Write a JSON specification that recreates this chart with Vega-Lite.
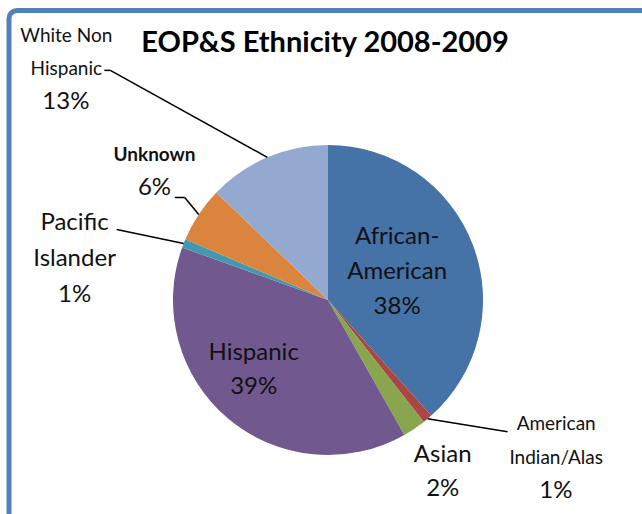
{
  "$schema": "https://vega.github.io/schema/vega-lite/v6.json",
  "width": 640,
  "height": 515,
  "autosize": "none",
  "padding": {"left": 9, "top": 10.5, "right": 0, "bottom": 0},
  "background": "white",
  "title": {"text": "EOP&S Ethnicity 2008-2009", "font": "Lato", "fontSize": 29, "fontWeight": "bold", "color": "#000000", "anchor": "middle", "frame": "group", "offset": -47, "dx": -4},
  "config": {"view": {"stroke": "#4F81BD", "strokeWidth": 5, "cornerRadius": 8}, "text": {"font": "Lato", "color": "#111111"}},
  "data": {"values": [
    {"category": "African-American", "name": "African-\nAmerican", "value": 38.4, "order": 1},
    {"category": "American Indian/Alas", "name": "American\nIndian/Alas", "value": 1.0, "order": 2},
    {"category": "Asian", "name": "Asian", "value": 2.4, "order": 3},
    {"category": "Hispanic", "name": "Hispanic", "value": 38.7, "order": 4},
    {"category": "Pacific Islander", "name": "Pacific\nIslander", "value": 0.9, "order": 5},
    {"category": "Unknown", "name": "Unknown", "value": 5.8, "order": 6},
    {"category": "White Non Hispanic", "name": "White Non\nHispanic", "value": 12.8, "order": 7}
  ]},
  "transform": [
    {"window": [{"op": "sum", "field": "value", "as": "cum"}], "sort": [{"field": "order"}], "frame": [null, 0]},
    {"joinaggregate": [{"op": "sum", "field": "value", "as": "total"}]},
    {"calculate": "2*PI*(datum.cum - datum.value/2)/datum.total", "as": "mid"},
    {"calculate": "155*sin(datum.mid)", "as": "ex"},
    {"calculate": "155*cos(datum.mid)", "as": "ey"},
    {"calculate": "datum.name + '\\n' + format(datum.value, '.0f') + '%'", "as": "label"},
    {"calculate": "format(datum.value, '.0f') + '%'", "as": "pct"}
  ],
  "layer": [
    {
      "mark": {"type": "arc", "outerRadius": 155},
      "encoding": {
        "x": {"datum": 0, "type": "quantitative", "scale": {"domain": [-319, 321], "nice": false, "zero": false}, "axis": null},
        "y": {"datum": 0, "type": "quantitative", "scale": {"domain": [-225.5, 289.5], "nice": false, "zero": false}, "axis": null},
        "theta": {"field": "value", "type": "quantitative", "stack": true},
        "order": {"field": "order", "type": "quantitative"},
        "color": {"field": "category", "type": "nominal", "legend": null,
          "scale": {"domain": ["African-American", "American Indian/Alas", "Asian", "Hispanic", "Pacific Islander", "Unknown", "White Non Hispanic"],
                    "range": ["#4572A7", "#AA4643", "#89A54E", "#71588F", "#4198AF", "#DB843D", "#93A9CF"]}}
      }
    },
    {
      "mark": {"type": "text", "radius": 74, "dy": -37, "fontSize": 24, "lineBreak": "\n", "lineHeight": 35},
      "encoding": {
        "x": {"datum": 0, "type": "quantitative"}, "y": {"datum": 0, "type": "quantitative"},
        "theta": {"field": "value", "type": "quantitative", "stack": true},
        "order": {"field": "order", "type": "quantitative"},
        "text": {"condition": {"test": "datum.category === 'African-American'", "field": "label"}, "value": ""}
      }
    },
    {
      "mark": {"type": "text", "radius": 92, "dx": -15, "dy": -17, "fontSize": 24, "lineBreak": "\n", "lineHeight": 34},
      "encoding": {
        "x": {"datum": 0, "type": "quantitative"}, "y": {"datum": 0, "type": "quantitative"},
        "theta": {"field": "value", "type": "quantitative", "stack": true},
        "order": {"field": "order", "type": "quantitative"},
        "text": {"condition": {"test": "datum.category === 'Hispanic'", "field": "label"}, "value": ""}
      }
    },
    {
      "mark": {"type": "text", "radius": 206, "dy": -16, "fontSize": 24, "lineBreak": "\n", "lineHeight": 34},
      "encoding": {
        "x": {"datum": 0, "type": "quantitative"}, "y": {"datum": 0, "type": "quantitative"},
        "theta": {"field": "value", "type": "quantitative", "stack": true},
        "order": {"field": "order", "type": "quantitative"},
        "text": {"condition": {"test": "datum.category === 'Asian'", "field": "label"}, "value": ""}
      }
    },
    {
      "mark": {"type": "text", "radius": 184, "dx": 110, "dy": -17, "fontSize": 19, "lineBreak": "\n", "lineHeight": 34},
      "encoding": {
        "x": {"datum": 0, "type": "quantitative"}, "y": {"datum": 0, "type": "quantitative"},
        "theta": {"field": "value", "type": "quantitative", "stack": true},
        "order": {"field": "order", "type": "quantitative"},
        "text": {"condition": {"test": "datum.category === 'American Indian/Alas'", "field": "name"}, "value": ""}
      }
    },
    {
      "mark": {"type": "text", "radius": 249, "dx": 68, "fontSize": 24},
      "encoding": {
        "x": {"datum": 0, "type": "quantitative"}, "y": {"datum": 0, "type": "quantitative"},
        "theta": {"field": "value", "type": "quantitative", "stack": true},
        "order": {"field": "order", "type": "quantitative"},
        "text": {"condition": {"test": "datum.category === 'American Indian/Alas'", "field": "pct"}, "value": ""}
      }
    },
    {
      "mark": {"type": "text", "radius": 240, "dx": -30, "dy": 11, "fontSize": 24, "lineBreak": "\n", "lineHeight": 36},
      "encoding": {
        "x": {"datum": 0, "type": "quantitative"}, "y": {"datum": 0, "type": "quantitative"},
        "theta": {"field": "value", "type": "quantitative", "stack": true},
        "order": {"field": "order", "type": "quantitative"},
        "text": {"condition": {"test": "datum.category === 'Pacific Islander'", "field": "label"}, "value": ""}
      }
    },
    {
      "mark": {"type": "text", "radius": 208, "dy": -30, "fontSize": 19, "fontWeight": "bold"},
      "encoding": {
        "x": {"datum": 0, "type": "quantitative"}, "y": {"datum": 0, "type": "quantitative"},
        "theta": {"field": "value", "type": "quantitative", "stack": true},
        "order": {"field": "order", "type": "quantitative"},
        "text": {"condition": {"test": "datum.category === 'Unknown'", "field": "name"}, "value": ""}
      }
    },
    {
      "mark": {"type": "text", "radius": 208, "dy": 3, "fontSize": 24},
      "encoding": {
        "x": {"datum": 0, "type": "quantitative"}, "y": {"datum": 0, "type": "quantitative"},
        "theta": {"field": "value", "type": "quantitative", "stack": true},
        "order": {"field": "order", "type": "quantitative"},
        "text": {"condition": {"test": "datum.category === 'Unknown'", "field": "pct"}, "value": ""}
      }
    },
    {
      "mark": {"type": "text", "radius": 270, "dx": -156, "dy": -16, "fontSize": 19, "lineBreak": "\n", "lineHeight": 33},
      "encoding": {
        "x": {"datum": 0, "type": "quantitative"}, "y": {"datum": 0, "type": "quantitative"},
        "theta": {"field": "value", "type": "quantitative", "stack": true},
        "order": {"field": "order", "type": "quantitative"},
        "text": {"condition": {"test": "datum.category === 'White Non Hispanic'", "field": "name"}, "value": ""}
      }
    },
    {
      "mark": {"type": "text", "radius": 215, "dx": -178, "fontSize": 24},
      "encoding": {
        "x": {"datum": 0, "type": "quantitative"}, "y": {"datum": 0, "type": "quantitative"},
        "theta": {"field": "value", "type": "quantitative", "stack": true},
        "order": {"field": "order", "type": "quantitative"},
        "text": {"condition": {"test": "datum.category === 'White Non Hispanic'", "field": "pct"}, "value": ""}
      }
    },
    {
      "transform": [{"filter": "datum.category === 'White Non Hispanic'"}],
      "mark": {"type": "rule", "color": "#000000", "strokeWidth": 1.5, "x2Offset": -157, "y2Offset": -87},
      "encoding": {"x": {"field": "ex", "type": "quantitative"}, "y": {"field": "ey", "type": "quantitative"}, "x2": {"field": "ex"}, "y2": {"field": "ey"}}
    },
    {
      "transform": [{"filter": "datum.category === 'White Non Hispanic'"}],
      "mark": {"type": "rule", "color": "#000000", "strokeWidth": 1.5, "xOffset": -157, "x2Offset": -163, "yOffset": -87, "y2Offset": -87},
      "encoding": {"x": {"field": "ex", "type": "quantitative"}, "y": {"field": "ey", "type": "quantitative"}, "x2": {"field": "ex"}, "y2": {"field": "ey"}}
    },
    {
      "transform": [{"filter": "datum.category === 'Unknown'"}],
      "mark": {"type": "rule", "color": "#000000", "strokeWidth": 1.5, "x2Offset": -14, "y2Offset": -17},
      "encoding": {"x": {"field": "ex", "type": "quantitative"}, "y": {"field": "ey", "type": "quantitative"}, "x2": {"field": "ex"}, "y2": {"field": "ey"}}
    },
    {
      "transform": [{"filter": "datum.category === 'Unknown'"}],
      "mark": {"type": "rule", "color": "#000000", "strokeWidth": 1.5, "xOffset": -14, "x2Offset": -24, "yOffset": -17, "y2Offset": -17},
      "encoding": {"x": {"field": "ex", "type": "quantitative"}, "y": {"field": "ey", "type": "quantitative"}, "x2": {"field": "ex"}, "y2": {"field": "ey"}}
    },
    {
      "transform": [{"filter": "datum.category === 'Pacific Islander'"}],
      "mark": {"type": "rule", "color": "#000000", "strokeWidth": 1.5, "x2Offset": -67, "y2Offset": -14},
      "encoding": {"x": {"field": "ex", "type": "quantitative"}, "y": {"field": "ey", "type": "quantitative"}, "x2": {"field": "ex"}, "y2": {"field": "ey"}}
    },
    {
      "transform": [{"filter": "datum.category === 'American Indian/Alas'"}],
      "mark": {"type": "rule", "color": "#000000", "strokeWidth": 1.5, "x2Offset": 80, "y2Offset": 13},
      "encoding": {"x": {"field": "ex", "type": "quantitative"}, "y": {"field": "ey", "type": "quantitative"}, "x2": {"field": "ex"}, "y2": {"field": "ey"}}
    }
  ]
}
